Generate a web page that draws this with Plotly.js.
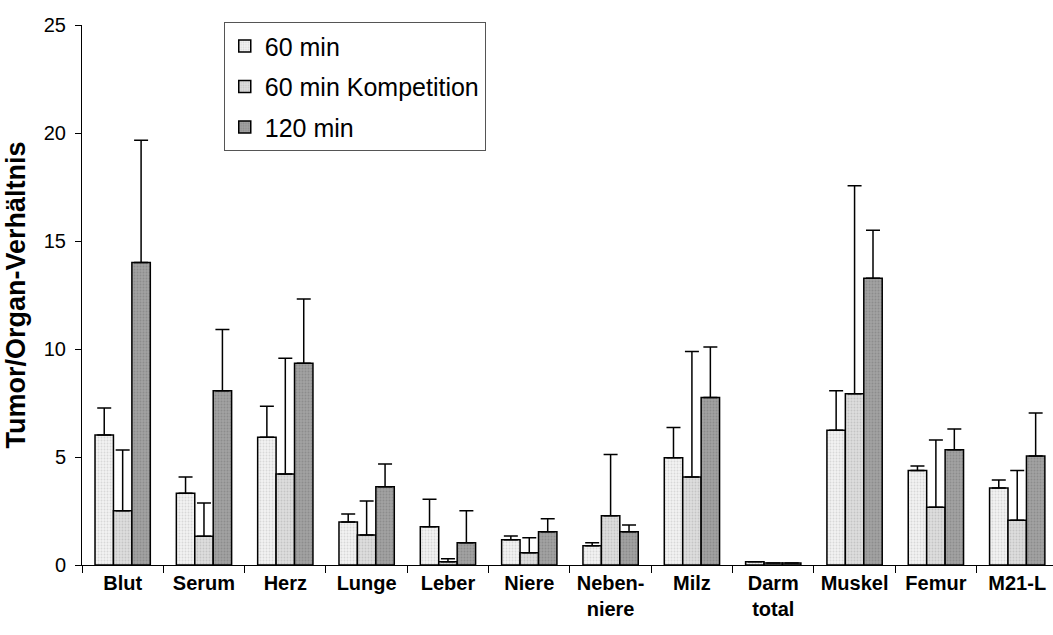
<!DOCTYPE html>
<html>
<head>
<meta charset="utf-8">
<script src="https://cdn.plot.ly/plotly-3.0.1.min.js"></script>
<style>
html,body{margin:0;padding:0;background:#fff;}
#chart{width:1053px;height:635px;}
</style>
</head>
<body>
<div id="chart"></div>
<script>
var categories = ["Blut","Serum","Herz","Lunge","Leber","Niere","Neben-<br>niere","Milz","Darm<br>total","Muskel","Femur","M21-L"];

var seriesNames = ["60 min","60 min Kompetition","120 min"];

var values60 = [6.02, 3.32, 5.91, 1.99, 1.77, 1.17, 0.89, 4.97, 0.15, 6.24, 4.38, 3.56];
var upper60  = [7.27, 4.07, 7.35, 2.36, 3.04, 1.34, 1.03, 6.37, 0.15, 8.07, 4.58, 3.94];

var valuesKomp = [2.51, 1.33, 4.21, 1.39, 0.15, 0.57, 2.28, 4.07, 0.09, 7.93, 2.67, 2.07];
var upperKomp  = [5.32, 2.87, 9.57, 2.96, 0.29, 1.26, 5.11, 9.88, 0.09, 17.56, 5.79, 4.38];

var values120 = [14.01, 8.07, 9.34, 3.62, 1.03, 1.54, 1.54, 7.76, 0.09, 13.27, 5.34, 5.05];
var upper120  = [19.66, 10.90, 12.31, 4.68, 2.51, 2.14, 1.85, 10.09, 0.09, 15.50, 6.30, 7.04];

var yTicks = [0, 5, 10, 15, 20, 25];

var fillColors = ["#f3f3f3", "#dedede", "#a2a2a2"];
var dotColors  = ["#d8d8d8", "#c4c4c4", "#8c8c8c"];

function plusErr(vals, upper){ return upper.map(function(u,i){ return Math.max(0, u - vals[i]); }); }
function zeros(n){ var a=[]; for(var i=0;i<n;i++) a.push(0); return a; }

var allVals = [values60, valuesKomp, values120];
var allUpper = [upper60, upperKomp, upper120];

var traces = seriesNames.map(function(name, k){
  return {
    type: "bar",
    name: name,
    x: categories,
    y: allVals[k],
    legendgroup: "g" + k,
    marker: {
      color: fillColors[k],
      line: {color: "#000", width: 1.5},
      pattern: {shape: ".", fillmode: "replace", bgcolor: fillColors[k], fgcolor: dotColors[k], size: 3, solidity: 0.3}
    },
    error_y: {
      type: "data",
      symmetric: false,
      array: plusErr(allVals[k], allUpper[k]),
      arrayminus: zeros(categories.length),
      color: "#000",
      thickness: 1.5,
      width: 7
    },
    hoverinfo: "x+y"
  };
});

var layout = {
  width: 1053,
  height: 635,
  margin: {l: 82, r: 0, t: 25, b: 70},
  paper_bgcolor: "#fff",
  plot_bgcolor: "#fff",
  barmode: "group",
  bargap: 0.32,
  bargroupgap: 0,
  font: {family: "Arial, 'Liberation Sans', sans-serif", color: "#000"},
  showlegend: true,
  legend: {
    x: 0.146, xanchor: "left",
    y: 1.005, yanchor: "top",
    bgcolor: "#fff",
    bordercolor: "#555",
    borderwidth: 1,
    font: {size: 25, color: "#000"},
    tracegroupgap: 5,
    traceorder: "grouped"
  },
  xaxis: {
    type: "category",
    range: [-0.5, 11.44],
    showline: true, linecolor: "#000", linewidth: 1,
    ticks: "outside", tickson: "boundaries", ticklen: 7, tickcolor: "#000", tickwidth: 1,
    showgrid: false, zeroline: false,
    tickfont: {size: 20, family: "Arial, 'Liberation Sans', sans-serif", weight: "bold", color: "#000"}
  },
  yaxis: {
    range: [0, 25],
    tickvals: yTicks,
    ticktext: yTicks.map(String),
    showline: true, linecolor: "#000", linewidth: 1,
    ticks: "outside", ticklen: 6, tickcolor: "#000", tickwidth: 1,
    ticklabelstandoff: 5,
    showgrid: false, zeroline: false,
    tickfont: {size: 20, color: "#000"},
    title: {text: "Tumor/Organ-Verhältnis", font: {size: 27, weight: "bold", color: "#000"}, standoff: 10}
  }
};

Plotly.newPlot("chart", traces, layout, {displayModeBar: false, staticPlot: true});
</script>
</body>
</html>
